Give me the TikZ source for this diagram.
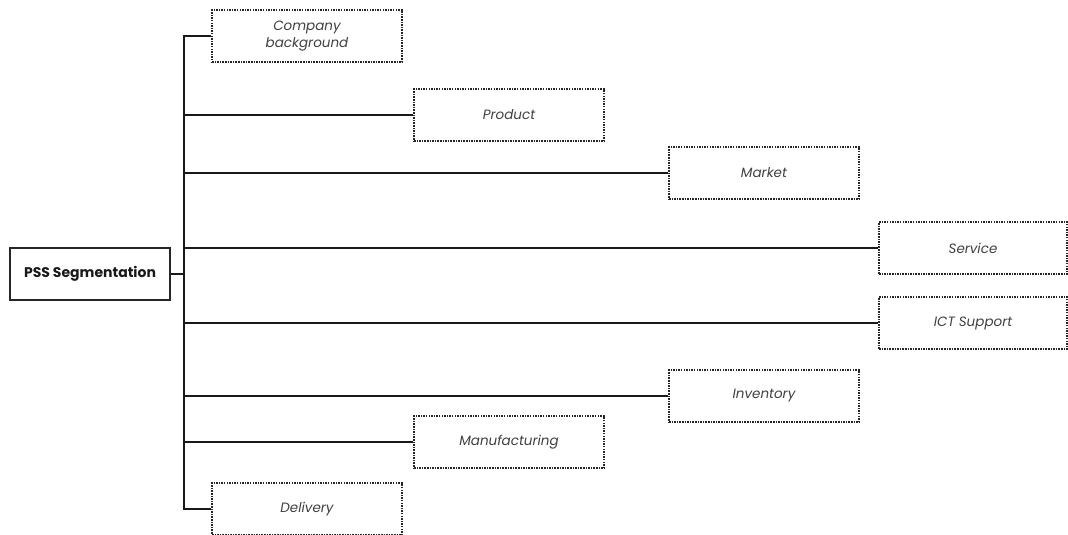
\documentclass[tikz,border=0pt]{standalone}
\usepackage{fontspec}
\setmainfont{Poppins}
\begin{document}
\begin{tikzpicture}[x=1pt, y=-1pt,
  leaf/.style={draw=black!85, line width=1.3pt, dash pattern=on 1.5pt off 1.1pt,
    minimum width=190pt, minimum height=52pt, inner sep=0pt, align=center,
    font=\itshape\fontsize{13.5}{17}\selectfont, text=black!75},
  root/.style={draw=black!85, line width=2pt, minimum width=160pt, minimum height=52pt,
    inner sep=0pt, font=\bfseries\fontsize{14}{16}\selectfont, text=black!90},
  link/.style={line width=2.5pt, black!90}]
\useasboundingbox (0,0) rectangle (1068,535);

% root and the eight segments
\node[root] (pss) at (90,274) {PSS Segmentation};
\node[leaf] (company) at (307,36) {Company\\background};
\node[leaf] (product) at (509,115) {Product};
\node[leaf] (market) at (764,173) {Market};
\node[leaf, minimum width=188pt] (service) at (973,248) {Service};
\node[leaf, minimum width=188pt] (ict) at (973,323) {ICT Support};
\node[leaf] (inventory) at (764,396) {Inventory};
\node[leaf] (manufacturing) at (509,442) {Manufacturing};
\node[leaf] (delivery) at (307,509) {Delivery};

% vertical trunk position
\coordinate (trunk) at (184,274);

% trunk with the first and last branches
\draw[link] (company.west) -- (company.west -| trunk) -- (delivery.west -| trunk) -- (delivery.west);
% root to trunk
\draw[link] (pss.east) -- (trunk);
% remaining branches
\foreach \n in {product, market, service, ict, inventory, manufacturing}
  \draw[link] (\n.west -| trunk) -- (\n.west);
\end{tikzpicture}
\end{document}
